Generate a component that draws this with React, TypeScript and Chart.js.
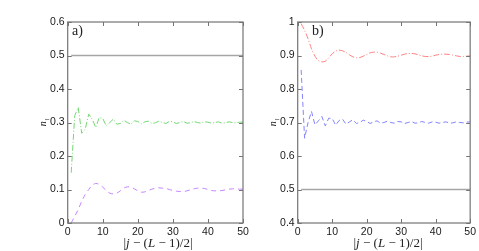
import React, { useEffect, useRef } from "react";
import { Chart, registerables } from "chart.js";

Chart.register(...registerables);

const sites = [1,2,3,4,5,6,7,8,9,10,11,12,13,14,15,16,17,18,19,20,21,22,23,24,25,26,27,28,29,30,31,32,33,34,35,36,37,38,39,40,41,42,43,44,45,46,47,48,49,50];

const greenA = [0.15,0.32,0.345,0.268,0.28,0.325,0.31,0.285,0.315,0.312,0.29,0.30,0.31,0.295,0.297,0.307,0.30,0.295,0.305,0.303,0.296,0.302,0.304,0.297,0.299,0.304,0.300,0.297,0.303,0.302,0.297,0.300,0.303,0.298,0.299,0.303,0.300,0.298,0.302,0.301,0.298,0.300,0.302,0.298,0.299,0.302,0.300,0.299,0.301,0.301];
const violetA = [0,0.02,0.04,0.065,0.085,0.10,0.113,0.118,0.115,0.107,0.097,0.089,0.087,0.089,0.096,0.104,0.108,0.107,0.102,0.096,0.092,0.093,0.097,0.101,0.104,0.105,0.104,0.103,0.100,0.097,0.095,0.094,0.094,0.096,0.099,0.102,0.104,0.104,0.103,0.100,0.097,0.096,0.096,0.097,0.099,0.101,0.102,0.102,0.101,0.101];
const redB = [0.995,0.975,0.95,0.92,0.898,0.885,0.881,0.883,0.893,0.905,0.913,0.916,0.914,0.909,0.902,0.896,0.893,0.894,0.898,0.903,0.908,0.910,0.910,0.907,0.903,0.899,0.896,0.896,0.898,0.901,0.904,0.906,0.906,0.905,0.902,0.899,0.897,0.897,0.898,0.901,0.903,0.904,0.904,0.903,0.901,0.899,0.897,0.897,0.898,0.899];
const blueB = [0.857,0.653,0.70,0.733,0.693,0.705,0.718,0.69,0.713,0.712,0.692,0.706,0.71,0.695,0.702,0.708,0.697,0.700,0.707,0.703,0.697,0.702,0.705,0.698,0.700,0.704,0.700,0.698,0.703,0.702,0.697,0.700,0.703,0.698,0.699,0.703,0.700,0.698,0.702,0.701,0.698,0.700,0.702,0.698,0.699,0.702,0.700,0.699,0.701,0.702];
const halfLineX = [1, 50];
const halfLineY = [0.5, 0.5];

const xTicks = [0, 10, 20, 30, 40, 50];
const yRangeA = [0, 0.6];
const yRangeB = [0.4, 1];

const toPts = (xs: number[], ys: number[]) => xs.map((x, i) => ({ x, y: ys[i] }));

const framePlugin = {
  id: "frame",
  afterDraw(chart: any) {
    const { ctx, chartArea: a, scales } = chart;
    const x = scales.x, y = scales.y;
    ctx.save();
    ctx.strokeStyle = "#747474";
    ctx.lineWidth = 1.2;
    ctx.strokeRect(a.left, a.top, a.right - a.left, a.bottom - a.top);
    ctx.lineWidth = 1;
    ctx.beginPath();
    x.ticks.forEach((t: any) => {
      const px = Math.round(x.getPixelForValue(t.value)) + 0.5;
      ctx.moveTo(px, a.bottom); ctx.lineTo(px, a.bottom - 4);
      ctx.moveTo(px, a.top); ctx.lineTo(px, a.top + 4);
    });
    y.ticks.forEach((t: any) => {
      const py = Math.round(y.getPixelForValue(t.value)) + 0.5;
      ctx.moveTo(a.left, py); ctx.lineTo(a.left + 4, py);
      ctx.moveTo(a.right, py); ctx.lineTo(a.right - 4, py);
    });
    ctx.stroke();
    ctx.restore();
  },
};

function makeOptions(yr: number[], padLeft: number, padRight: number) {
  return {
    responsive: false,
    animation: false as const,
    devicePixelRatio: 1,
    layout: { padding: { left: padLeft, right: padRight, top: 22, bottom: 0 } },
    plugins: { legend: { display: false }, tooltip: { enabled: false } },
    elements: { point: { radius: 0 } },
    scales: {
      x: {
        type: "linear" as const,
        min: xTicks[0],
        max: xTicks[xTicks.length - 1],
        afterFit: (s: any) => { s.height = 28; },
        afterBuildTicks: (s: any) => { s.ticks = xTicks.map((v) => ({ value: v })); },
        grid: { display: false, drawTicks: false },
        border: { display: false },
        ticks: { padding: 3, color: "#1a1a1a", font: { family: "'Liberation Sans', Arial, sans-serif", size: 10.5 }, maxRotation: 0, callback: (v: any) => String(v) },
      },
      y: {
        type: "linear" as const,
        min: yr[0],
        max: yr[1],
        afterFit: (s: any) => { s.width = 40; },
        grid: { display: false, drawTicks: false },
        border: { display: false },
        ticks: { stepSize: 0.1, padding: 3, color: "#1a1a1a", font: { family: "'Liberation Sans', Arial, sans-serif", size: 10.5 }, callback: (v: any) => String(Math.round(v * 10) / 10) },
      },
    },
  };
}

function Panel({ left, width, datasets, yr, padLeft, padRight }: any) {
  const ref = useRef<HTMLCanvasElement>(null);
  useEffect(() => {
    const chart = new Chart(ref.current as HTMLCanvasElement, {
      type: "line",
      data: { datasets },
      options: makeOptions(yr, padLeft, padRight) as any,
      plugins: [framePlugin],
    });
    return () => chart.destroy();
  }, []);
  return (
    <canvas
      ref={ref}
      width={width}
      height={251}
      style={{ position: "absolute", left, top: 0, width, height: 251 }}
    />
  );
}

const grey = { label: "half", data: toPts(halfLineX, halfLineY), borderColor: "#a6a6a6", borderWidth: 1.5, pointRadius: 0 };

const datasetsA = [
  grey,
  { label: "n up a", data: toPts(sites, greenA), borderColor: "#74d874", borderWidth: 1, borderDash: [6, 2, 1, 2], pointRadius: 0, tension: 0 },
  { label: "n dn a", data: toPts(sites, violetA), borderColor: "#c484ff", borderWidth: 1, borderDash: [5, 4], pointRadius: 0, tension: 0.3 },
];
const datasetsB = [
  grey,
  { label: "n up b", data: toPts(sites, redB), borderColor: "#ff8080", borderWidth: 1, borderDash: [6, 2, 1, 2], pointRadius: 0, tension: 0.3 },
  { label: "n dn b", data: toPts(sites, blueB), borderColor: "#8484ff", borderWidth: 1, borderDash: [5, 3], pointRadius: 0, tension: 0 },
];

const serif = "'Liberation Serif', 'Times New Roman', serif";

const XTitle = ({ cx }: { cx: number }) => (
  <div style={{ position: "absolute", left: cx, top: 243, transform: "translate(-50%,-50%)", font: `13px ${serif}`, color: "#222", whiteSpace: "nowrap" }}>
    |<i>j</i> − (<i>L</i> − 1)/2|
  </div>
);
const YTitle = ({ cx }: { cx: number }) => (
  <div style={{ position: "absolute", left: cx, top: 122, transform: "translate(-50%,-50%) rotate(-90deg)", font: `10px ${serif}`, color: "#222", whiteSpace: "nowrap" }}>
    <i>n</i><sub style={{ fontSize: 7 }}>↑</sub>
  </div>
);
const PanelLabel = ({ x, text }: { x: number; text: string }) => (
  <div style={{ position: "absolute", left: x, top: 23, font: `14px ${serif}`, color: "#222", whiteSpace: "nowrap" }}>{text}</div>
);

export default function App() {
  return (
    <div style={{ position: "fixed", left: 0, top: 0, width: 479, height: 251, background: "#fff", overflow: "hidden" }}>
      <Panel left={0} width={255} datasets={datasetsA} yr={yRangeA} padLeft={27.7} padRight={12} />
      <Panel left={240} width={239} datasets={datasetsB} yr={yRangeB} padLeft={17.7} padRight={8} />
      <PanelLabel x={72} text="a)" />
      <PanelLabel x={312} text="b)" />
      <YTitle cx={44} />
      <YTitle cx={274} />
      <XTitle cx={158} />
      <XTitle cx={388} />
    </div>
  );
}
